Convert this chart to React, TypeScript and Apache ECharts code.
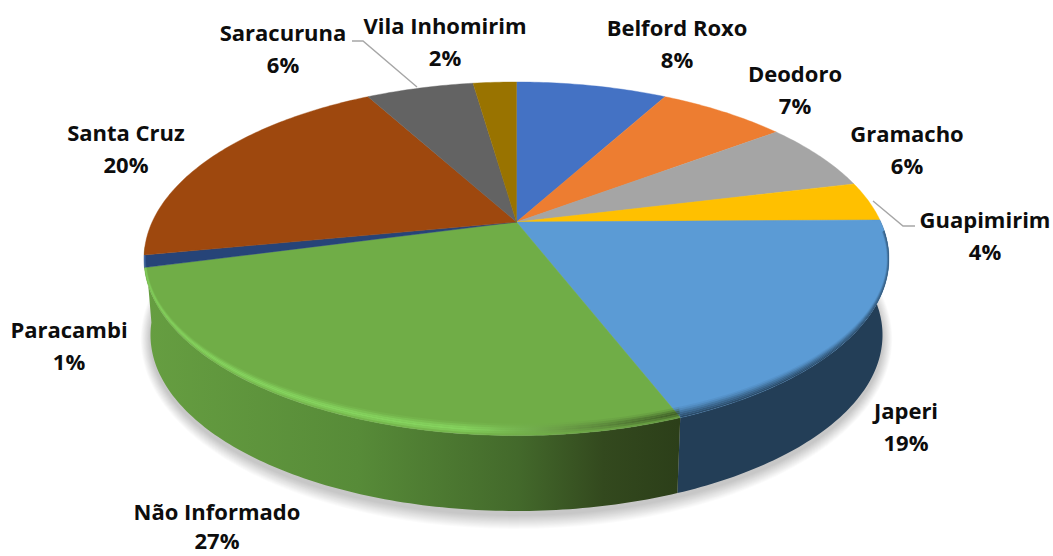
import React, { useEffect, useRef } from "react";
import * as echarts from "echarts";

const NAMES = ["Belford Roxo", "Deodoro", "Gramacho", "Guapimirim", "Japeri", "Não Informado", "Paracambi", "Santa Cruz", "Saracuruna", "Vila Inhomirim"];
const VALUES = [8, 6.8, 6.4, 3.6, 19.3, 26.8, 1.1, 20, 5.7, 2.3];
const COLORS = ["#4472c4", "#ed7d31", "#a5a5a5", "#ffc000", "#5b9bd5", "#70ad47", "#264478", "#9e480e", "#636363", "#997300"];

// layout of the projected disc
const CX = 516.5, CY = 258.8, RX = 372.5, RY = 176.8;
const BCY = 335, BRX = 366, BRY = 176;
const K = -0.208; // perspective shift of the centre towards the back
const LABEL_POS: [number, number][] = [[677, 43], [795, 89], [907, 149], [985, 235], [906, 426], [217, 527], [69, 345], [126, 148], [283, 48], [445, 41]];
const MAX_TEXT_Y = 540;
const LEADERS: number[][][] = [
  [[873, 201], [903, 226], [915, 226]],
  [[417, 87], [363, 41], [352, 41]],
];
const WALL_SLICES = [4, 5];
const LEFT_EDGE = (262 / 180) * Math.PI;
const LIP_STEPS: [number, number, number][] = [[12, 10, 0.08], [10, 8, 0.2], [8, 6, 0.38], [6, 4, 0.55], [4, 2, 0.7], [2, 0, 0.85]];
const GREEN_LIP: number[] = [0.12, 0.35, 0.6, 0.7, 0.5, 0.2];

const TOTAL = VALUES.reduce((a, b) => a + b, 0);
const range = (i: number): [number, number] => {
  let s = 0;
  for (let j = 0; j < i; j++) s += VALUES[j];
  const a = (s / TOTAL) * Math.PI * 2;
  return [a, a + (VALUES[i] / TOTAL) * Math.PI * 2];
};
// maps a pie angle on the unit circle through the perspective, returns normalised ellipse coords
const proj = (t: number): [number, number] => {
  const x = Math.sin(t), y = -Math.cos(t);
  const d = 1 + K * y;
  return [(x * Math.sqrt(1 - K * K)) / d, (y + K) / d];
};
const arc = (a: number, b: number, cx: number, cy: number, rx: number, ry: number) => {
  const n = Math.max(3, Math.ceil((b - a) / 0.015));
  const pts: number[][] = [];
  for (let i = 0; i <= n; i++) {
    const [x, y] = proj(a + ((b - a) * i) / n);
    pts.push([cx + x * rx, cy + y * ry]);
  }
  return pts;
};
const grad = (stops: [number, string][]) =>
  new echarts.graphic.LinearGradient(145, 0, 678, 0, stops.map(([offset, color]) => ({ offset, color })), true);

const wallFill = (i: number) =>
  i === 5
    ? grad([[0, "#669e41"], [0.4, "#578b38"], [0.7, "#43692b"], [0.86, "#33491e"], [1, "#2c3f19"]])
    : "#233e57";
const lipFill = (i: number) => {
  if (i === 5)
    return grad([[0, "rgb(142,228,104)"], [0.6, "rgb(142,228,104)"], [0.78, "rgb(104,150,70)"], [1, "rgb(44,64,26)"]]);
  if (i === 4) return "#233e57";
  if (i === 6) return "#5a82c0";
  return "";
};

const renderWall = (params: any) => {
  const i = params.dataIndex;
  const children: any[] = [];
  if (i === 0) {
    for (let d = 14; d >= 1; d--) {
      children.push({
        type: "ellipse",
        shape: { cx: CX, cy: BCY + 4, rx: BRX + d * 0.7, ry: BRY + d },
        style: { fill: "rgba(0,0,0,0.014)" },
      });
    }
  }
  if (WALL_SLICES.includes(i)) {
    const [a, r] = range(i);
    const b = i === 5 ? LEFT_EDGE : r;
    const top = arc(a, b, CX, CY, RX, RY);
    const bottom = arc(a, b, CX, BCY, BRX, BRY).reverse();
    children.push({ type: "polygon", z2: 20, shape: { points: top.concat(bottom) }, style: { fill: wallFill(i) } });
  }
  return { type: "group", children };
};

const renderTop = (params: any) => {
  const i = params.dataIndex;
  const [a, b] = range(i);
  const rim = arc(a, b, CX, CY, RX, RY);
  const children: any[] = [
    {
      type: "polygon",
      shape: { points: [[CX, CY + K * RY], ...rim] },
      style: { fill: COLORS[i], stroke: COLORS[i], lineWidth: 0.4 },
    },
  ];
  const lip = lipFill(i);
  if (lip) {
    const from = Math.max(a, 1.62);
    LIP_STEPS.forEach(([d0, d1, alpha], n) => {
      const outer = arc(from, b, CX, CY, RX - d1 * 0.2, RY - d1);
      const inner = arc(from, b, CX, CY, RX - d0 * 0.2, RY - d0).reverse();
      children.push({
        type: "polygon",
        z2: 3 + n,
        shape: { points: outer.concat(inner) },
        style: { fill: lip, opacity: i === 5 ? GREEN_LIP[n] : alpha },
      });
    });
  }
  return { type: "group", children };
};

const labelLine = (text: string, x: number, y: number) => ({
  type: "text",
  style: {
    text,
    x,
    y,
    align: "center",
    verticalAlign: "middle",
    fontFamily: "'Open Sans'",
    fontWeight: 700,
    fontSize: 22,
    fill: "#0d0d0d",
  },
});

const renderLabel = (params: any, api: any) => {
  const i = params.dataIndex;
  const [x, y] = LABEL_POS[i];
  return {
    type: "group",
    children: [labelLine(NAMES[i], x, y - 16), labelLine(`${Math.round(api.value(0))}%`, x, Math.min(y + 16, MAX_TEXT_Y))],
  };
};

const renderLeader = (params: any) => ({
  type: "polyline",
  shape: { points: LEADERS[params.dataIndex] },
  style: { fill: "none", stroke: "#a6a6a6", lineWidth: 1.4 },
});

export default function App() {
  const ref = useRef<HTMLDivElement>(null);
  useEffect(() => {
    const chart = echarts.init(ref.current!, undefined, { renderer: "svg" });
    const data = VALUES.map((v, i) => ({ name: NAMES[i], value: [v] }));
    chart.setOption({
      animation: false,
      backgroundColor: "#ffffff",
      series: [
        { type: "custom", coordinateSystem: "none", z: 1, silent: true, renderItem: renderWall, data },
        { type: "custom", coordinateSystem: "none", z: 2, silent: true, renderItem: renderTop, data },
        { type: "custom", coordinateSystem: "none", z: 3, silent: true, renderItem: renderLeader, data: LEADERS.map((_, i) => [i]) },
        { type: "custom", coordinateSystem: "none", z: 4, silent: true, renderItem: renderLabel, data },
      ],
    });
    return () => chart.dispose();
  }, []);
  return <div ref={ref} style={{ position: "fixed", left: 0, top: 0, width: 1053, height: 556 }} />;
}
